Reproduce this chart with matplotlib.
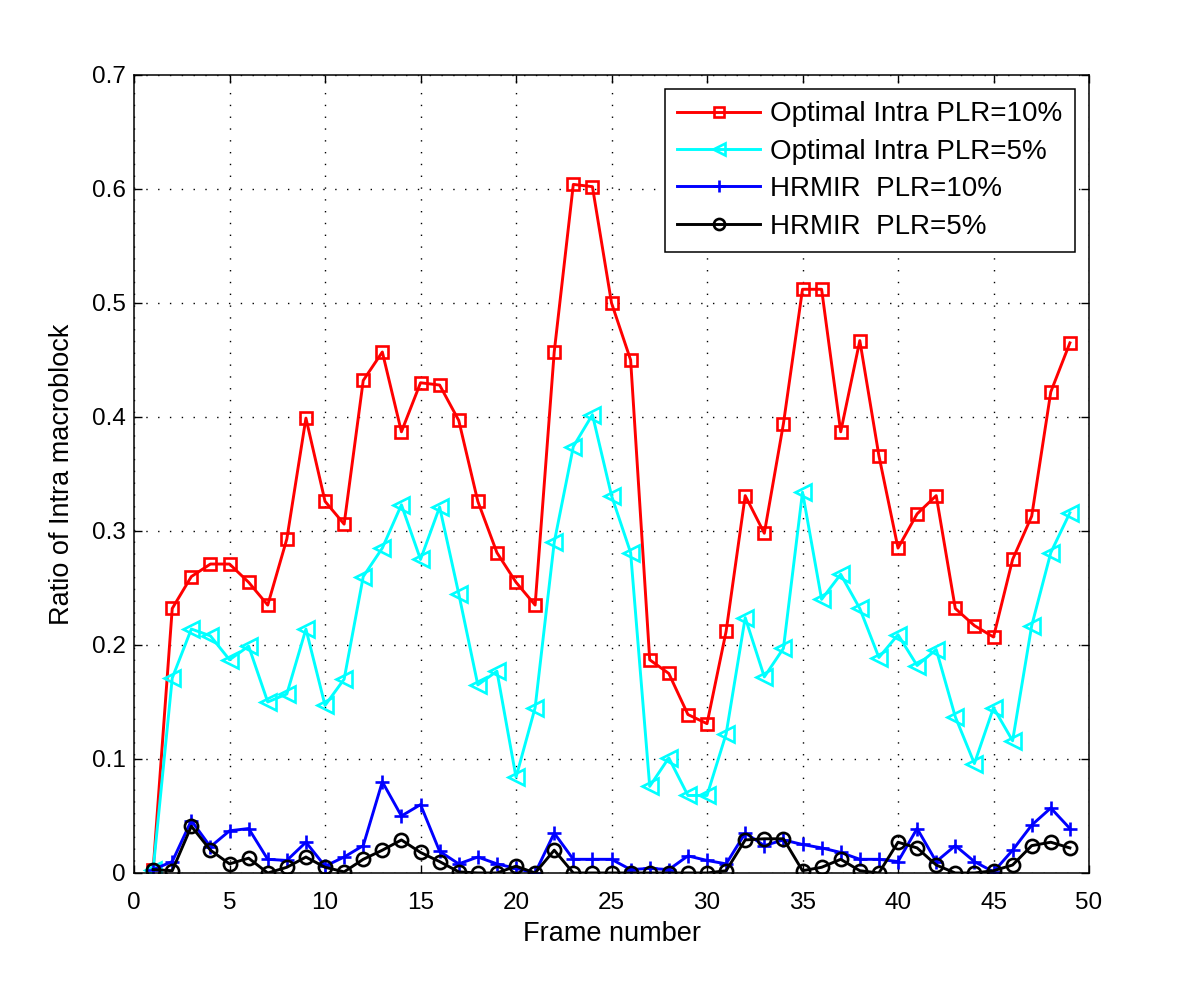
import matplotlib
matplotlib.use("Agg")
import matplotlib.pyplot as plt
import numpy as np

plt.rcParams["font.family"] = ["Liberation Sans", "DejaVu Sans"]

frames = np.arange(1, 50)

opt_plr10 = [0.003, 0.232, 0.260, 0.271, 0.271, 0.255, 0.235, 0.293, 0.399, 0.326,
             0.306, 0.432, 0.457, 0.387, 0.430, 0.428, 0.397, 0.326, 0.281, 0.255,
             0.235, 0.457, 0.604, 0.602, 0.500, 0.450, 0.187, 0.175, 0.139, 0.131,
             0.212, 0.331, 0.298, 0.394, 0.512, 0.512, 0.387, 0.467, 0.366, 0.285,
             0.315, 0.331, 0.232, 0.217, 0.207, 0.275, 0.313, 0.422, 0.465]

opt_plr5 = [0.003, 0.171, 0.214, 0.208, 0.187, 0.199, 0.150, 0.157, 0.214, 0.147,
            0.170, 0.260, 0.285, 0.323, 0.275, 0.321, 0.245, 0.165, 0.177, 0.084,
            0.145, 0.290, 0.374, 0.402, 0.331, 0.281, 0.076, 0.101, 0.068, 0.068,
            0.122, 0.224, 0.172, 0.197, 0.334, 0.240, 0.262, 0.232, 0.189, 0.209,
            0.182, 0.196, 0.137, 0.096, 0.145, 0.116, 0.217, 0.281, 0.316]

hrmir_plr10 = [0.003, 0.010, 0.046, 0.023, 0.037, 0.039, 0.012, 0.011, 0.027, 0.006,
               0.014, 0.024, 0.080, 0.050, 0.060, 0.019, 0.008, 0.014, 0.008, 0.004,
               0.000, 0.035, 0.012, 0.012, 0.012, 0.003, 0.004, 0.003, 0.015, 0.011,
               0.008, 0.035, 0.024, 0.029, 0.025, 0.022, 0.018, 0.012, 0.012, 0.010,
               0.039, 0.010, 0.024, 0.010, 0.001, 0.020, 0.042, 0.057, 0.039]

hrmir_plr5 = [0.003, 0.002, 0.041, 0.020, 0.008, 0.013, 0.000, 0.005, 0.014, 0.005,
              0.001, 0.012, 0.020, 0.029, 0.018, 0.010, 0.001, 0.000, 0.000, 0.006,
              0.000, 0.020, 0.000, 0.000, 0.000, 0.000, 0.000, 0.000, 0.000, 0.000,
              0.002, 0.029, 0.030, 0.030, 0.002, 0.005, 0.012, 0.002, 0.000, 0.027,
              0.022, 0.007, 0.000, 0.000, 0.002, 0.007, 0.024, 0.027, 0.022]

fig = plt.figure(figsize=(12, 9.81), dpi=100)
ax = fig.add_axes([0.1117, 0.1101, 0.7958, 0.8135])

lw = 2.1
ax.plot(frames, opt_plr10, color="#ff0000", lw=lw, marker="s", ms=9, mfc="none",
        mew=1.9, label="Optimal Intra PLR=10%")
ax.plot(frames, opt_plr5, color="#00ffff", lw=lw, marker="<", ms=12, mfc="none",
        mew=1.9, label="Optimal Intra PLR=5%")
ax.plot(frames, hrmir_plr10, color="#0000ff", lw=lw, marker="+", ms=10.5,
        mew=1.9, label="HRMIR  PLR=10%")
ax.plot(frames, hrmir_plr5, color="#000000", lw=lw, marker="o", ms=9.5, mfc="none",
        mew=1.9, label="HRMIR  PLR=5%")

ax.set_xlim(0, 50)
ax.set_ylim(0, 0.7)
ax.set_xticks(np.arange(0, 51, 5))
ax.set_yticks(np.arange(0, 0.71, 0.1))
ax.set_yticklabels(["0", "0.1", "0.2", "0.3", "0.4", "0.5", "0.6", "0.7"])
ax.tick_params(direction="in", top=True, right=True, length=6, width=1,
               labelsize=17.5)
ax.tick_params(axis="x", pad=14)
ax.tick_params(axis="y", pad=6)
ax.grid(True, linestyle=(0, (1, 7.5)), color="black", linewidth=1.0)
for sp in ax.spines.values():
    sp.set_linewidth(1.1)

ax.set_xlabel("Frame number", fontsize=19.5, labelpad=5)
ax.set_ylabel("Ratio of Intra macroblock", fontsize=19.5, labelpad=12)

leg = ax.legend(loc="upper right", fontsize=20, handlelength=3.0,
                borderaxespad=0.5, borderpad=0.45, fancybox=False,
                edgecolor="black", framealpha=1, labelspacing=0.41,
                handletextpad=0.36)
leg.get_frame().set_linewidth(1.1)
for h, ms in zip(leg.legend_handles, [7, 9, 9, 8]):
    h.set_markersize(ms)

fig.savefig("out.png", dpi=100)
